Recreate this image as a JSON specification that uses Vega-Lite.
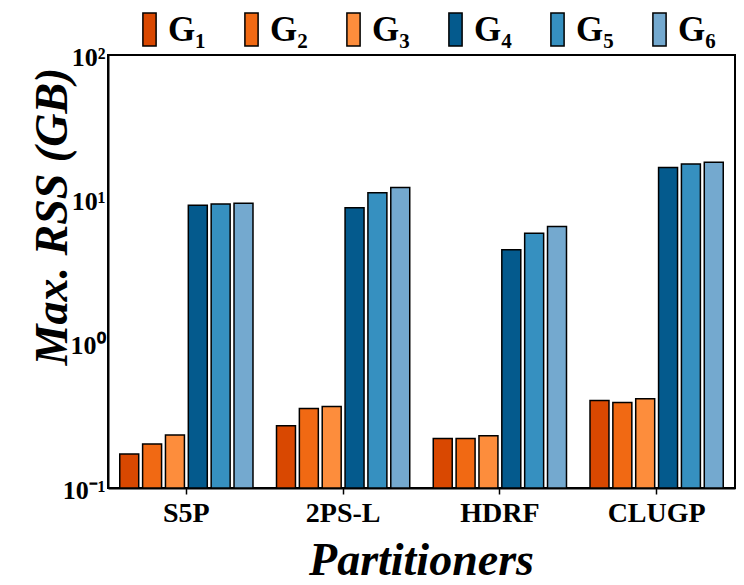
{
  "$schema": "https://vega.github.io/schema/vega-lite/v6.json",
  "autosize": {"type": "none"},
  "padding": {"left": 108, "top": 55, "right": 9, "bottom": 97},
  "width": 627,
  "height": 433,
  "background": "white",
  "data": {"values": [
    {"p": "S5P", "g": "G1", "v": 0.172},
    {"p": "S5P", "g": "G2", "v": 0.202},
    {"p": "S5P", "g": "G3", "v": 0.233},
    {"p": "S5P", "g": "G4", "v": 9.1},
    {"p": "S5P", "g": "G5", "v": 9.3},
    {"p": "S5P", "g": "G6", "v": 9.4},
    {"p": "2PS-L", "g": "G1", "v": 0.27},
    {"p": "2PS-L", "g": "G2", "v": 0.356},
    {"p": "2PS-L", "g": "G3", "v": 0.367},
    {"p": "2PS-L", "g": "G4", "v": 8.75},
    {"p": "2PS-L", "g": "G5", "v": 11.1},
    {"p": "2PS-L", "g": "G6", "v": 12.1},
    {"p": "HDRF", "g": "G1", "v": 0.22},
    {"p": "HDRF", "g": "G2", "v": 0.22},
    {"p": "HDRF", "g": "G3", "v": 0.23},
    {"p": "HDRF", "g": "G4", "v": 4.48},
    {"p": "HDRF", "g": "G5", "v": 5.83},
    {"p": "HDRF", "g": "G6", "v": 6.49},
    {"p": "CLUGP", "g": "G1", "v": 0.404},
    {"p": "CLUGP", "g": "G2", "v": 0.391},
    {"p": "CLUGP", "g": "G3", "v": 0.415},
    {"p": "CLUGP", "g": "G4", "v": 16.6},
    {"p": "CLUGP", "g": "G5", "v": 17.6},
    {"p": "CLUGP", "g": "G6", "v": 18.1}
  ]},
  "mark": {"type": "bar", "stroke": "black", "strokeWidth": 1.5},
  "encoding": {
    "x": {
      "field": "p", "type": "nominal",
      "sort": ["S5P", "2PS-L", "HDRF", "CLUGP"],
      "scale": {"paddingInner": 0.15, "paddingOuter": 0.075},
      "axis": {
        "title": "Partitioners",
        "titleFont": "Liberation Serif", "titleFontSize": 46, "titleFontWeight": "bold", "titleFontStyle": "italic",
        "titleColor": "black",
        "titleX": 313, "titleY": 86, "titleBaseline": "alphabetic", "titleAnchor": null, "titleAlign": "center",
        "labelFont": "Liberation Serif", "labelFontSize": 28, "labelFontWeight": "bold", "labelColor": "black",
        "labelAngle": 0, "labelPadding": 5,
        "domainColor": "black", "domainWidth": 2,
        "ticks": true, "tickColor": "black", "tickWidth": 1.5, "tickSize": 6
      }
    },
    "xOffset": {
      "field": "g", "type": "nominal",
      "scale": {"paddingInner": 0.17, "paddingOuter": 0}
    },
    "y": {
      "field": "v", "type": "quantitative",
      "scale": {"type": "log", "domain": [0.1, 100], "nice": false},
      "axis": {
        "title": "Max. RSS (GB)",
        "titleFont": "Liberation Serif", "titleFontSize": 46, "titleFontWeight": "bold", "titleFontStyle": "italic",
        "titleColor": "black", "titleAngle": -90,
        "titleX": -42, "titleY": 161, "titleBaseline": "alphabetic", "titleAlign": "center", "titleAnchor": null,
        "values": [0.1, 1, 10, 100],
        "labelExpr": "datum.value >= 99 ? '10²' : datum.value >= 9 ? '10¹' : datum.value >= 0.9 ? '10⁰' : '10⁻¹'",
        "labelFont": "Liberation Serif", "labelFontSize": 26, "labelFontWeight": "bold", "labelColor": "black",
        "labelPadding": 3, "labelOffset": 2,
        "ticks": false, "grid": false,
        "domainColor": "black", "domainWidth": 2
      }
    },
    "y2": {"datum": 0.1},
    "color": {
      "field": "g", "type": "nominal",
      "scale": {
        "domain": ["G1", "G2", "G3", "G4", "G5", "G6"],
        "range": ["#d94801", "#f16913", "#fd8d3c", "#045a8d", "#3690c0", "#74a9cf"]
      },
      "legend": {
        "title": null,
        "orient": "none", "direction": "horizontal",
        "legendX": 24, "legendY": -43,
        "padding": 0,
        "symbolType": "M-0.4,-1H0.4V1H-0.4Z",
        "symbolSize": 1089,
        "symbolStrokeColor": "black", "symbolStrokeWidth": 1.5,
        "symbolOpacity": 1,
        "labelExpr": "'G' + ['₁','₂','₃','₄','₅','₆'][indexof(['G1','G2','G3','G4','G5','G6'], datum.value)]",
        "labelFont": "Liberation Serif", "labelFontSize": 35, "labelFontWeight": "bold", "labelColor": "black",
        "labelOffset": 1,
        "columnPadding": 28,
        "labelLimit": 200
      }
    }
  },
  "config": {
    "view": {"stroke": "black", "strokeWidth": 2}
  }
}
